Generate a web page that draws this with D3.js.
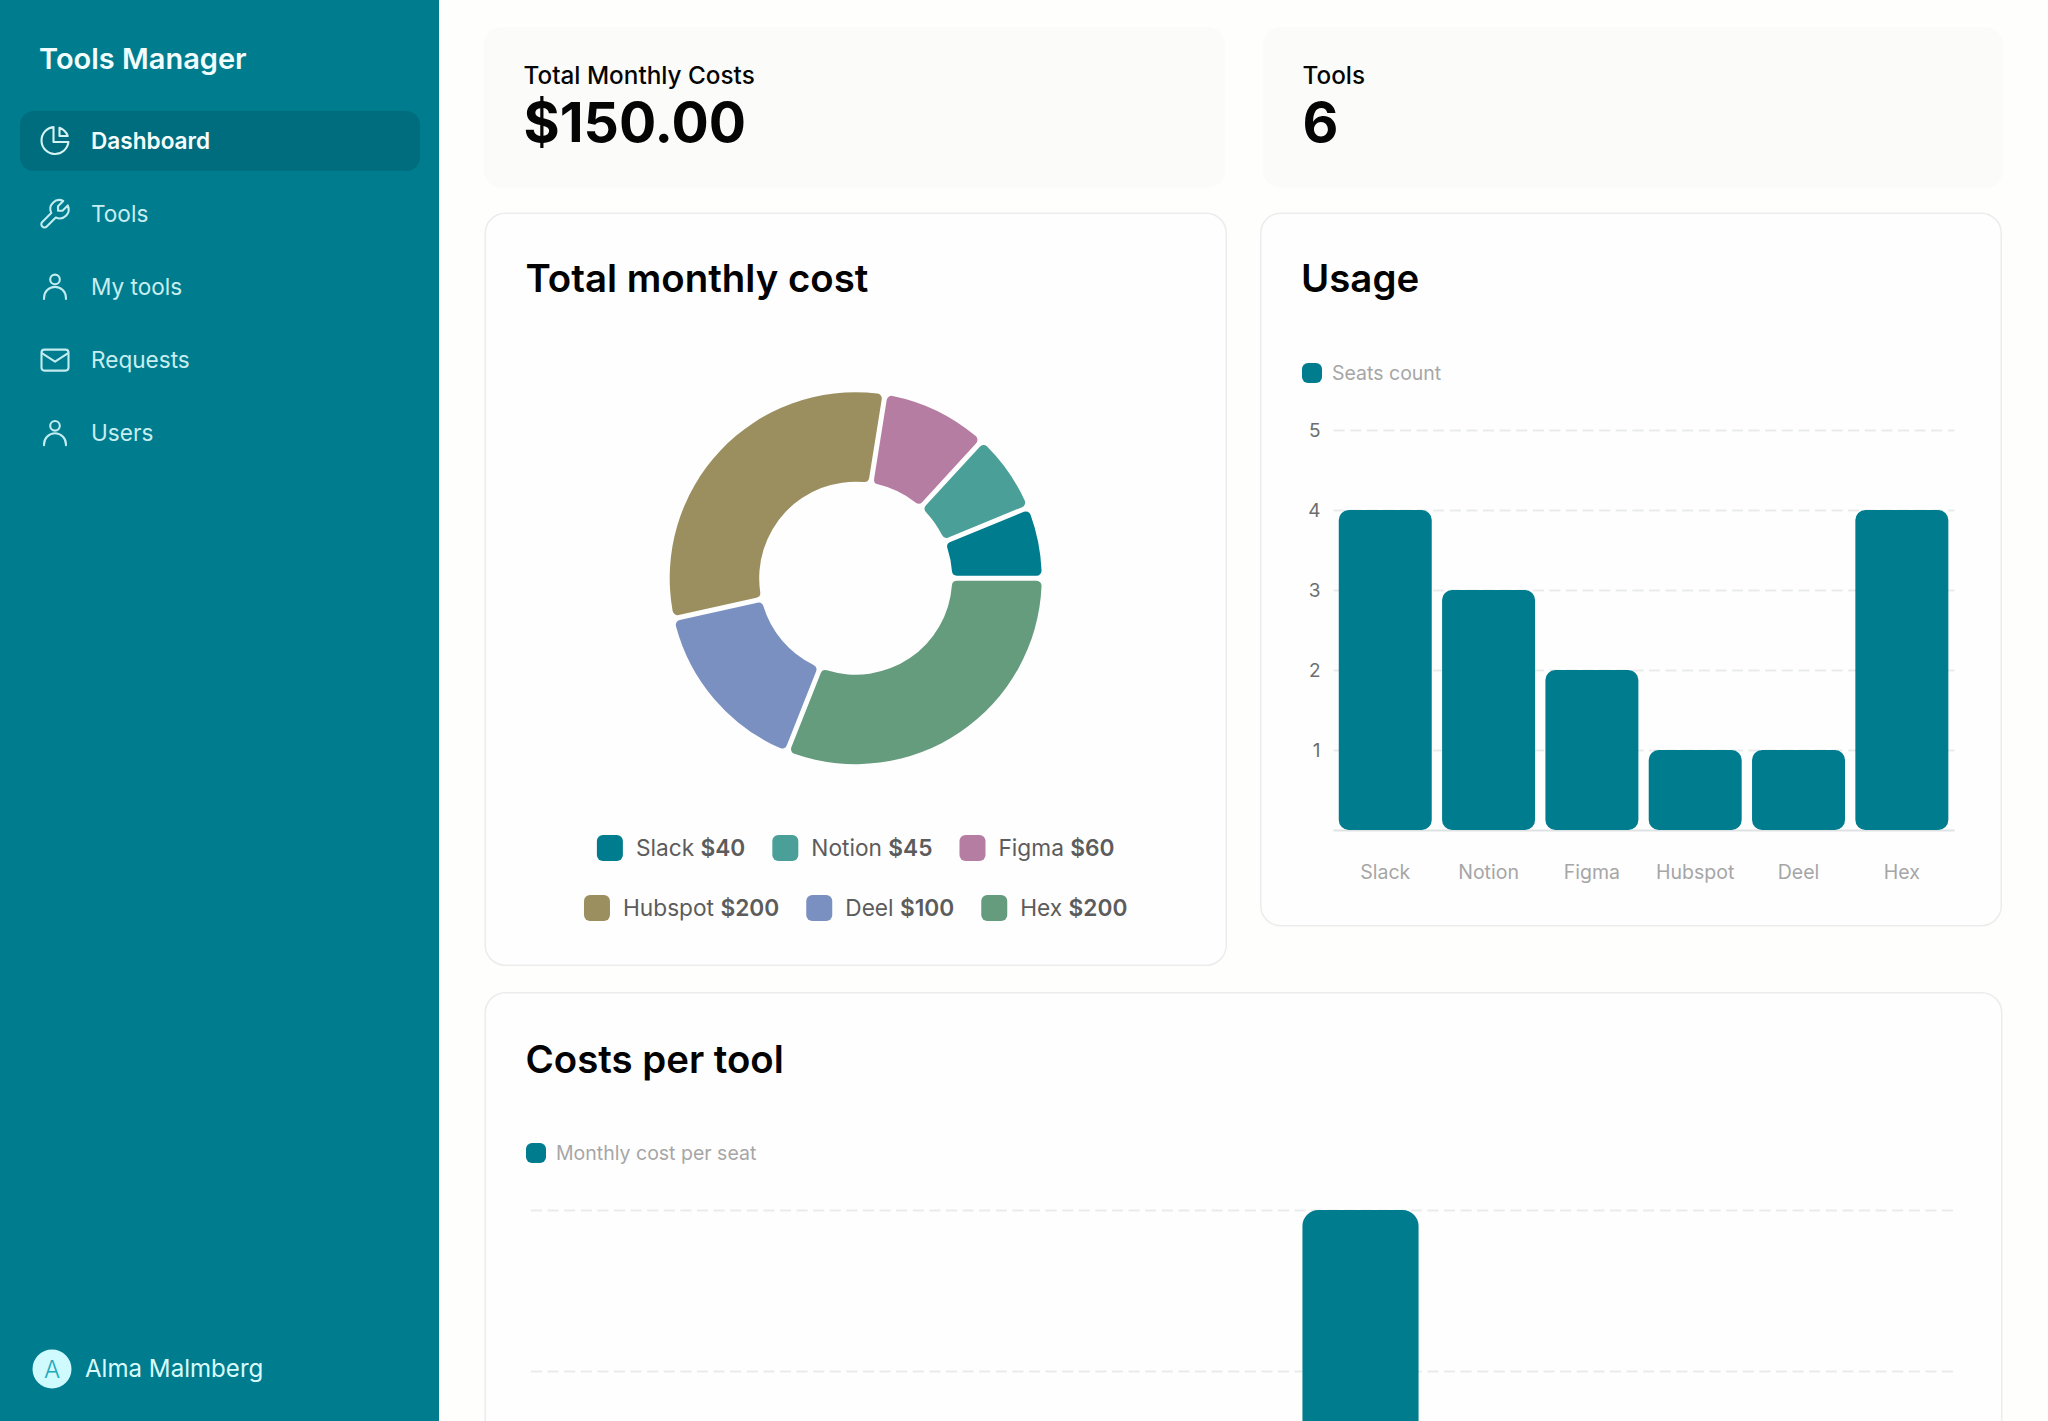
<!DOCTYPE html>
<html><head><meta charset="utf-8">
<script src="https://cdn.jsdelivr.net/npm/d3@7/dist/d3.min.js"></script>
<style>
html,body{margin:0;padding:0;background:#fefefd;overflow:hidden;width:2048px;height:1421px}
svg{display:block;font-family:Inter,sans-serif}
</style></head><body>
<svg id="page" width="2048" height="1421"></svg>
<script>
// ---- data ----
const tools = ["Slack","Notion","Figma","Hubspot","Deel","Hex"];
const monthlyCost = [40,45,60,200,100,200];
const seatsCount = [4,3,2,1,1,4];
const costPerSeat = [10,15,30,200,100,50];
const toolColors = ["#007c8f","#4a9f98","#b67da3","#9c8f5f","#7a90c0","#659c7e"];
const usageTicks = [0,1,2,3,4,5];
const costTicks = [0,50,100,150,200];
const navItems = ["Dashboard","Tools","My tools","Requests","Users"];

const TEAL="#007c8f";
const svg=d3.select("#page");
svg.append("rect").attr("width",2048).attr("height",1421).attr("fill","#fefefd");

// ---- sidebar ----
const side=svg.append("g");
side.append("rect").attr("width",439).attr("height",1421).attr("fill",TEAL);
side.append("text").attr("x",39).attr("y",68.5).attr("fill","#f2fdfd").attr("font-size",29).attr("font-weight",600).text("Tools Manager");
side.append("rect").attr("x",20).attr("y",111).attr("width",400).attr("height",60).attr("rx",14).attr("fill","#006d7e");
const icons={
 "Dashboard":g=>{g.append("path").attr("d","M11 3.055A9.001 9.001 0 1020.945 13H11V3.055z");g.append("path").attr("d","M20.488 9H15V3.512A9.025 9.025 0 0120.488 9z");},
 "Tools":g=>{g.append("path").attr("transform","translate(24,0) scale(-1,1)").attr("d","M7 10h3v-3l-3.5-3.5a6 6 0 0 1 8 8l6 6a2 2 0 0 1-3 3l-6-6a6 6 0 0 1-8-8l3.5 3.5");},
 "My tools":g=>person(g),
 "Requests":g=>{g.append("rect").attr("x",3).attr("y",5).attr("width",18).attr("height",14).attr("rx",2);g.append("path").attr("d","M3.5 7.5l8.5 5.5 8.5-5.5");},
 "Users":g=>person(g)
};
function person(g){g.append("circle").attr("cx",12).attr("cy",7).attr("r",3.2);g.append("path").attr("d","M4.7 20v-.7a7.3 7.3 0 0 1 14.6 0v.7");}
navItems.forEach((name,i)=>{
  const cy=140.5+73.2*i, active=i===0;
  const col=active?"#d6f3f4":"#c2ecef";
  const g=side.append("g").attr("transform",`translate(${55-18},${cy-18}) scale(1.5)`)
    .attr("fill","none").attr("stroke",col).attr("stroke-width",1.4).attr("stroke-linecap","round").attr("stroke-linejoin","round");
  icons[name](g);
  side.append("text").attr("x",91).attr("y",cy+8).attr("font-size",22.6).attr("font-weight",active?600:400)
    .attr("fill",active?"#f6fefe":"#c8eef0").text(name);
});
side.append("circle").attr("cx",52).attr("cy",1369).attr("r",19.5).attr("fill","#cffafe");
side.append("text").attr("x",52).attr("y",1377.5).attr("text-anchor","middle").attr("font-size",24).attr("font-weight",300).attr("fill","#1ea9ba").text("A");
side.append("text").attr("x",85).attr("y",1377).attr("font-size",24.1).attr("font-weight",400).attr("fill","#d8fbfc").text("Alma Malmberg");

// ---- stat cards ----
function stat(x,w,label,value){
  svg.append("rect").attr("x",x).attr("y",27).attr("width",w).attr("height",161).attr("rx",18).attr("fill","#fbfcfa");
  svg.append("text").attr("x",x+39.5).attr("y",84).attr("font-size",24.3).attr("font-weight",500).attr("fill","#050505").text(label);
  svg.append("text").attr("x",x+39.5).attr("y",142).attr("font-size",55.3).attr("font-weight",700).attr("fill","#050505").text(value);
}
stat(484,741,"Total Monthly Costs","$150.00");
stat(1263,740,"Tools","6");

// ---- panels ----
function panel(x,y,w,h,title){
  svg.append("rect").attr("x",x+.75).attr("y",y+.75).attr("width",w-1.5).attr("height",h-1.5).attr("rx",20)
    .attr("fill","#fefefe").attr("stroke","#ececec").attr("stroke-width",1.5);
  svg.append("text").attr("x",x+41).attr("y",y+79.5+(y>900?1:0)).attr("font-size",38.4).attr("font-weight",600).attr("fill","#020202").text(title);
}
panel(484.5,212.5,742.5,753.5,"Total monthly cost");
panel(1260,212.5,742,714,"Usage");
panel(484.5,992,1518,520,"Costs per tool");

// ---- donut ----
const cx=855.7, cy=578.2, R=186, r=96.5;
const pie=d3.pie().sort(null).startAngle(Math.PI/2).endAngle(Math.PI/2-2*Math.PI);
const arc=d3.arc().innerRadius(r).outerRadius(R).cornerRadius(5).padRadius(R).padAngle(5/R);
svg.append("g").attr("transform",`translate(${cx},${cy})`)
  .selectAll("path").data(pie(monthlyCost)).join("path").attr("d",arc).attr("fill",(d,i)=>toolColors[i]);

// donut legend, two centred rows
function legendRow(idx,cyRow){
  const g=svg.append("g");
  let x=0;
  idx.forEach(i=>{
    const it=g.append("g").attr("transform",`translate(${x},0)`);
    it.append("rect").attr("y",-13).attr("width",26).attr("height",26).attr("rx",6).attr("fill",toolColors[i]);
    const t=it.append("text").attr("x",39).attr("y",8.2).attr("font-size",22.7).attr("fill","#5c5c5c");
    t.append("tspan").text(tools[i]+" ");
    t.append("tspan").attr("font-weight",600).text("$"+monthlyCost[i]);
    x+=39+t.node().getComputedTextLength()+27;
  });
  g.attr("transform",`translate(${cx-(x-27)/2},${cyRow})`);
}
legendRow([0,1,2],848);
legendRow([3,4,5],908);

// ---- bar charts ----
function barChart(o){
  const x=d3.scaleBand().domain(tools).range([o.x0,o.x1]).paddingInner(o.pi).paddingOuter(o.po);
  const y=d3.scaleLinear().domain(o.domain).range([o.y0,o.y1]);
  const width=o.gridEnd-o.x0;
  const ga=svg.append("g").attr("transform",`translate(${o.x0},0)`)
    .call(d3.axisLeft(y).tickValues(o.ticks).tickSize(-width).tickPadding(13)
      .tickFormat(d=>d===0?"":d));
  ga.select(".domain").remove();
  ga.selectAll(".tick line").attr("stroke",d=>d===0?"#dfe2e3":"#e9ebeb").attr("stroke-width",2)
    .attr("stroke-dasharray",d=>d===0?null:"11 5.6");
  if(o.showLabels){
    ga.selectAll(".tick text").attr("font-size",19).attr("font-family","Inter").attr("fill","#6d6d6d");
  } else {
    ga.selectAll(".tick text").remove();
  }
  svg.append("g").selectAll("rect").data(o.values).join("rect")
    .attr("x",(d,i)=>x(tools[i])).attr("width",x.bandwidth())
    .attr("y",d=>y(d)).attr("height",d=>y(0)-y(d)).attr("rx",o.rx).attr("fill",TEAL);
  if(o.showLabels){
    const gx=svg.append("g").attr("transform",`translate(0,${o.y0})`)
      .call(d3.axisBottom(x).tickSize(0).tickPadding(35));
    gx.select(".domain").remove();
    gx.selectAll("text").attr("font-size",19.5).attr("font-family","Inter").attr("fill","#a6a6a6");
  }
  svg.append("rect").attr("x",o.lx).attr("y",o.ly-10).attr("width",20).attr("height",20).attr("rx",6).attr("fill",TEAL);
  svg.append("text").attr("x",o.lx+30).attr("y",o.ly+7).attr("font-size",19.5).attr("fill","#a6a6a6").text(o.label);
}
barChart({x0:1333.6,x1:1953.5,gridEnd:1954.5,y0:830,y1:430,domain:[0,5],ticks:usageTicks,values:seatsCount,pi:.1,po:.05,rx:10,showLabels:true,lx:1302,ly:373,label:"Seats count"});
barChart({x0:531,x1:1953,gridEnd:1954,y0:1854,y1:1210,domain:[0,200],ticks:costTicks,values:costPerSeat,pi:.51,po:.255,rx:16,showLabels:false,lx:526,ly:1153,label:"Monthly cost per seat"});
</script>
</body></html>
